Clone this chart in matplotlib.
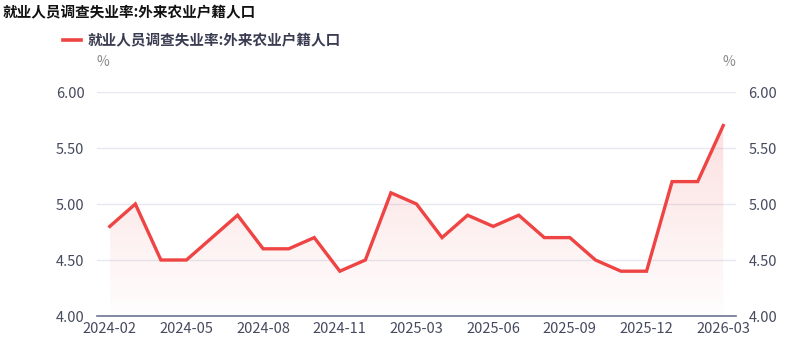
import matplotlib
matplotlib.use("Agg")
import matplotlib.pyplot as plt
import numpy as np
from matplotlib.patches import Polygon

plt.rcParams['font.family'] = ['Noto Sans CJK SC', 'DejaVu Sans']

categories = ["2024-02", "2024-03", "2024-04", "2024-05", "2024-06", "2024-07", "2024-08",
              "2024-09", "2024-10", "2024-11", "2024-12", "2025-02", "2025-03", "2025-04",
              "2025-05", "2025-06", "2025-07", "2025-08", "2025-09", "2025-10", "2025-11",
              "2025-12", "2026-01", "2026-02", "2026-03"]
values = [4.8, 5.0, 4.5, 4.5, 4.7, 4.9, 4.6, 4.6, 4.7, 4.4, 4.5, 5.1, 5.0, 4.7,
          4.9, 4.8, 4.9, 4.7, 4.7, 4.5, 4.4, 4.4, 5.2, 5.2, 5.7]
series_name = "就业人员调查失业率:外来农业户籍人口"
title = "就业人员调查失业率:外来农业户籍人口"
y_ticks = [4.0, 4.5, 5.0, 5.5, 6.0]

W, H = 799, 362
fig = plt.figure(figsize=(W / 100, H / 100), dpi=100)
ax = fig.add_axes([97 / W, 1 - 316 / H, (736 - 97) / W, (316 - 92) / H])

x = np.arange(len(values))
line_color = "#EE4444"
ax.plot(x, values, color=line_color, lw=2.4, solid_joinstyle="miter", zorder=3)

# gradient fill
ymin, ymax = 4.0, 6.0
grad = np.linspace(0.0, 1.0, 256).reshape(-1, 1)
rgba = np.zeros((256, 1, 4))
rgba[..., 0] = 0.93
rgba[..., 1] = 0.27
rgba[..., 2] = 0.27
rgba[..., 3] = 0.01 + 0.16 * grad[:, :]
top = max(values)
im = ax.imshow(rgba, extent=[x[0], x[-1], ymin, top], origin="lower", aspect="auto", zorder=1)
verts = [(x[0], ymin)] + list(zip(x, values)) + [(x[-1], ymin)]
poly = Polygon(verts, closed=True, facecolor="none", edgecolor="none")
ax.add_patch(poly)
im.set_clip_path(poly)

ax.set_xlim(-0.5, len(values) - 0.5)
ax.set_ylim(ymin, ymax)
ax.set_yticks(y_ticks)
ax.set_yticklabels([f"{v:.2f}" for v in y_ticks])
ax.yaxis.grid(True, color="#E6E8F2", lw=1)
ax.set_axisbelow(True)
for s in ["top", "right", "left"]:
    ax.spines[s].set_visible(False)
ax.spines["bottom"].set_color("#6E7591")
ax.spines["bottom"].set_linewidth(1.2)

tick_idx = list(range(0, len(categories), 3))
ax.set_xticks(tick_idx)
ax.set_xticklabels([categories[i] for i in tick_idx])
ax.tick_params(axis="x", length=0, pad=4, labelsize=10.5, labelcolor="#464A5E")
ax.tick_params(axis="y", length=0, pad=9, labelsize=10.5, labelcolor="#464A5E",
               left=False, labelleft=True, right=False, labelright=True)

# units
fig.text(103 / W, 1 - 62 / H, "%", fontsize=10, color="#8A8A8A", ha="center", va="center")
fig.text(729 / W, 1 - 62 / H, "%", fontsize=10, color="#8A8A8A", ha="center", va="center")

# title
fig.text(3 / W, 1 - 12 / H, title, fontsize=10.5, fontweight="bold", color="#111111",
         ha="left", va="center")
# legend
fig.add_artist(plt.Line2D([63 / W, 81 / W], [1 - 40 / H, 1 - 40 / H], color=line_color, lw=2.6,
                          transform=fig.transFigure))
fig.text(88 / W, 1 - 40 / H, series_name, fontsize=10.5, fontweight="bold", color="#3A3D52",
         ha="left", va="center")

fig.savefig("out.png", dpi=100)
